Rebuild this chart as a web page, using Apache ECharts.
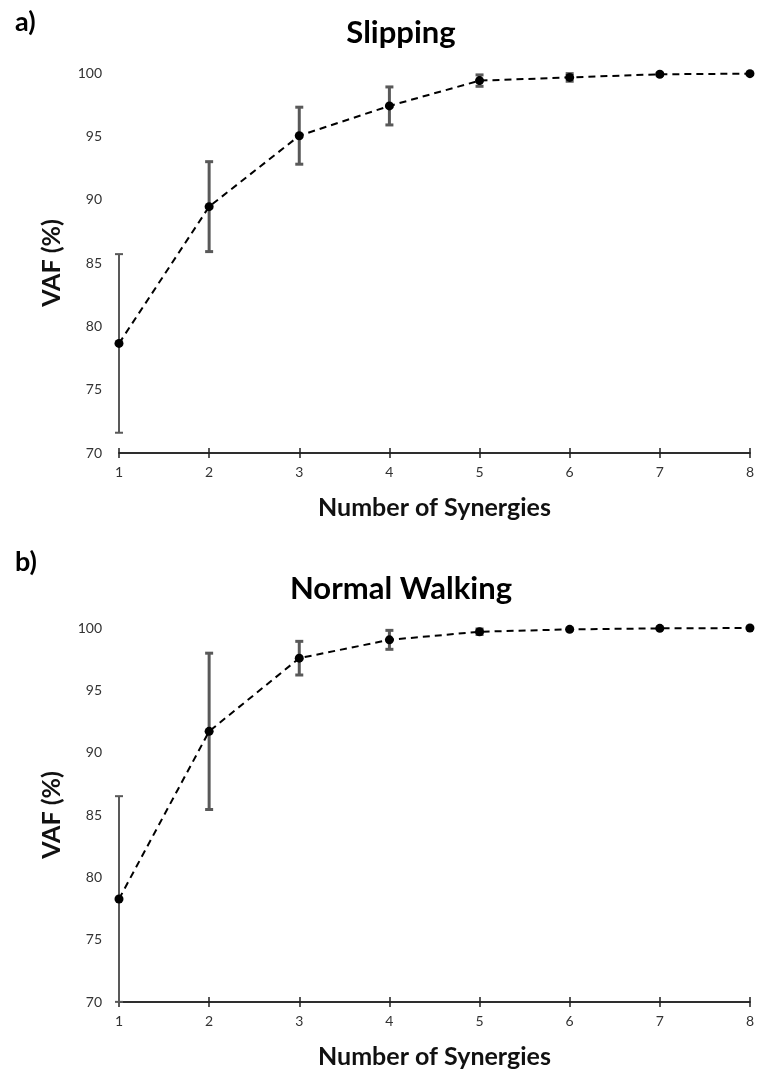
<!DOCTYPE html>
<html>
<head>
<meta charset="utf-8">
<script src="https://cdn.jsdelivr.net/npm/echarts@6/dist/echarts.min.js"></script>
<style>
  html, body { margin: 0; padding: 0; background: #fff; }
  #chart-container { width: 757px; height: 1078px; }
</style>
</head>
<body>
<div id="chart-container"></div>
<script>
var synergies = [1, 2, 3, 4, 5, 6, 7, 8];
var slipMean = [78.65, 89.45, 95.05, 97.4, 99.4, 99.65, 99.9, 99.95];
var slipErr = [7.05, 3.55, 2.25, 1.5, 0.45, 0.3, 0.08, 0.05];
var walkMean = [78.26, 91.71, 97.58, 99.05, 99.7, 99.89, 99.97, 100.0];
var walkErr = [8.25, 6.27, 1.35, 0.76, 0.22, 0.06, 0.03, 0.02];
var yTicks = [70, 75, 80, 85, 90, 95, 100];

var dom = document.getElementById('chart-container');
var myChart = echarts.init(dom, null, { renderer: 'canvas' });

var fontFamily = 'Lato, "Open Sans", sans-serif';

function pairs(mean) {
  return synergies.map(function (s, i) { return [s, mean[i]]; });
}
function errRows(mean, err) {
  return synergies.map(function (s, i) { return [s, mean[i] - err[i], mean[i] + err[i]]; });
}

function renderErr(params, api) {
  var x = api.value(0);
  var lo = api.coord([x, Math.max(api.value(1), 70)]);
  var hi = api.coord([x, api.value(2)]);
  var w = params.dataIndex === 0 ? 2 : 3;
  var cap = 4;
  var style = { stroke: '#595959', lineWidth: w, fill: null };
  return {
    type: 'group',
    children: [
      { type: 'line', shape: { x1: lo[0], y1: lo[1], x2: hi[0], y2: hi[1] }, style: style },
      { type: 'line', shape: { x1: hi[0] - cap, y1: hi[1], x2: hi[0] + cap, y2: hi[1] }, style: style },
      { type: 'line', shape: { x1: lo[0] - cap, y1: lo[1], x2: lo[0] + cap, y2: lo[1] }, style: style }
    ]
  };
}

function xAxisFor(gridIndex, withLabels) {
  return {
    type: 'value',
    gridIndex: gridIndex,
    min: 1,
    max: 8,
    interval: 1,
    position: 'bottom',
    name: withLabels ? 'Number of Synergies' : '',
    nameLocation: 'middle',
    nameGap: 42,
    nameTextStyle: { fontFamily: fontFamily, fontWeight: 'bold', fontSize: 25, color: '#111' },
    axisLine: { show: true, lineStyle: { color: '#222', width: 1.5 } },
    axisTick: { show: true, inside: !withLabels, length: 5, lineStyle: { color: '#222', width: 1.5 } },
    axisLabel: { show: withLabels, fontFamily: fontFamily, fontSize: 14, color: '#333', margin: 12 },
    splitLine: { show: false }
  };
}

function yAxisFor(gridIndex) {
  return {
    type: 'value',
    gridIndex: gridIndex,
    min: yTicks[0],
    max: yTicks[yTicks.length - 1],
    interval: 5,
    name: 'VAF (%)',
    nameLocation: 'middle',
    nameGap: 55,
    nameTextStyle: { fontFamily: fontFamily, fontWeight: 'bold', fontSize: 25, color: '#111' },
    axisLine: { show: false },
    axisTick: { show: false },
    axisLabel: { fontFamily: fontFamily, fontSize: 14, color: '#333', margin: 17 },
    splitLine: { show: false }
  };
}

function meanSeries(axisIdx, mean) {
  return {
    type: 'line',
    xAxisIndex: axisIdx * 2,
    yAxisIndex: axisIdx,
    data: pairs(mean),
    symbol: 'circle',
    symbolSize: 9,
    itemStyle: { color: '#000' },
    lineStyle: { color: '#000', width: 2, type: [7, 5] },
    z: 5
  };
}

function errSeries(axisIdx, mean, err) {
  return {
    type: 'custom',
    xAxisIndex: axisIdx * 2,
    yAxisIndex: axisIdx,
    data: errRows(mean, err),
    renderItem: renderErr,
    encode: { x: 0, y: [1, 2] },
    z: 3
  };
}

var option = {
  animation: false,
  title: [
    { text: 'a)', left: 10, top: 4, textStyle: { fontFamily: fontFamily, fontWeight: 'bold', fontSize: 27, color: '#000' } },
    { text: 'Slipping', left: 396, top: 12, textAlign: 'center', textStyle: { fontFamily: fontFamily, fontWeight: 'bold', fontSize: 31, color: '#000' } },
    { text: 'b)', left: 10, top: 544, textStyle: { fontFamily: fontFamily, fontWeight: 'bold', fontSize: 27, color: '#000' } },
    { text: 'Normal Walking', left: 396, top: 568, textAlign: 'center', textStyle: { fontFamily: fontFamily, fontWeight: 'bold', fontSize: 31, color: '#000' } }
  ],
  grid: [
    { left: 119, right: 5, top: 73, bottom: 625 },
    { left: 119, right: 5, top: 628, bottom: 76 }
  ],
  xAxis: [xAxisFor(0, true), xAxisFor(0, false), xAxisFor(1, true), xAxisFor(1, false)],
  yAxis: [yAxisFor(0), yAxisFor(1)],
  series: [
    errSeries(0, slipMean, slipErr),
    meanSeries(0, slipMean),
    errSeries(1, walkMean, walkErr),
    meanSeries(1, walkMean)
  ]
};

myChart.setOption(option);
window.addEventListener('resize', myChart.resize);
</script>
</body>
</html>
